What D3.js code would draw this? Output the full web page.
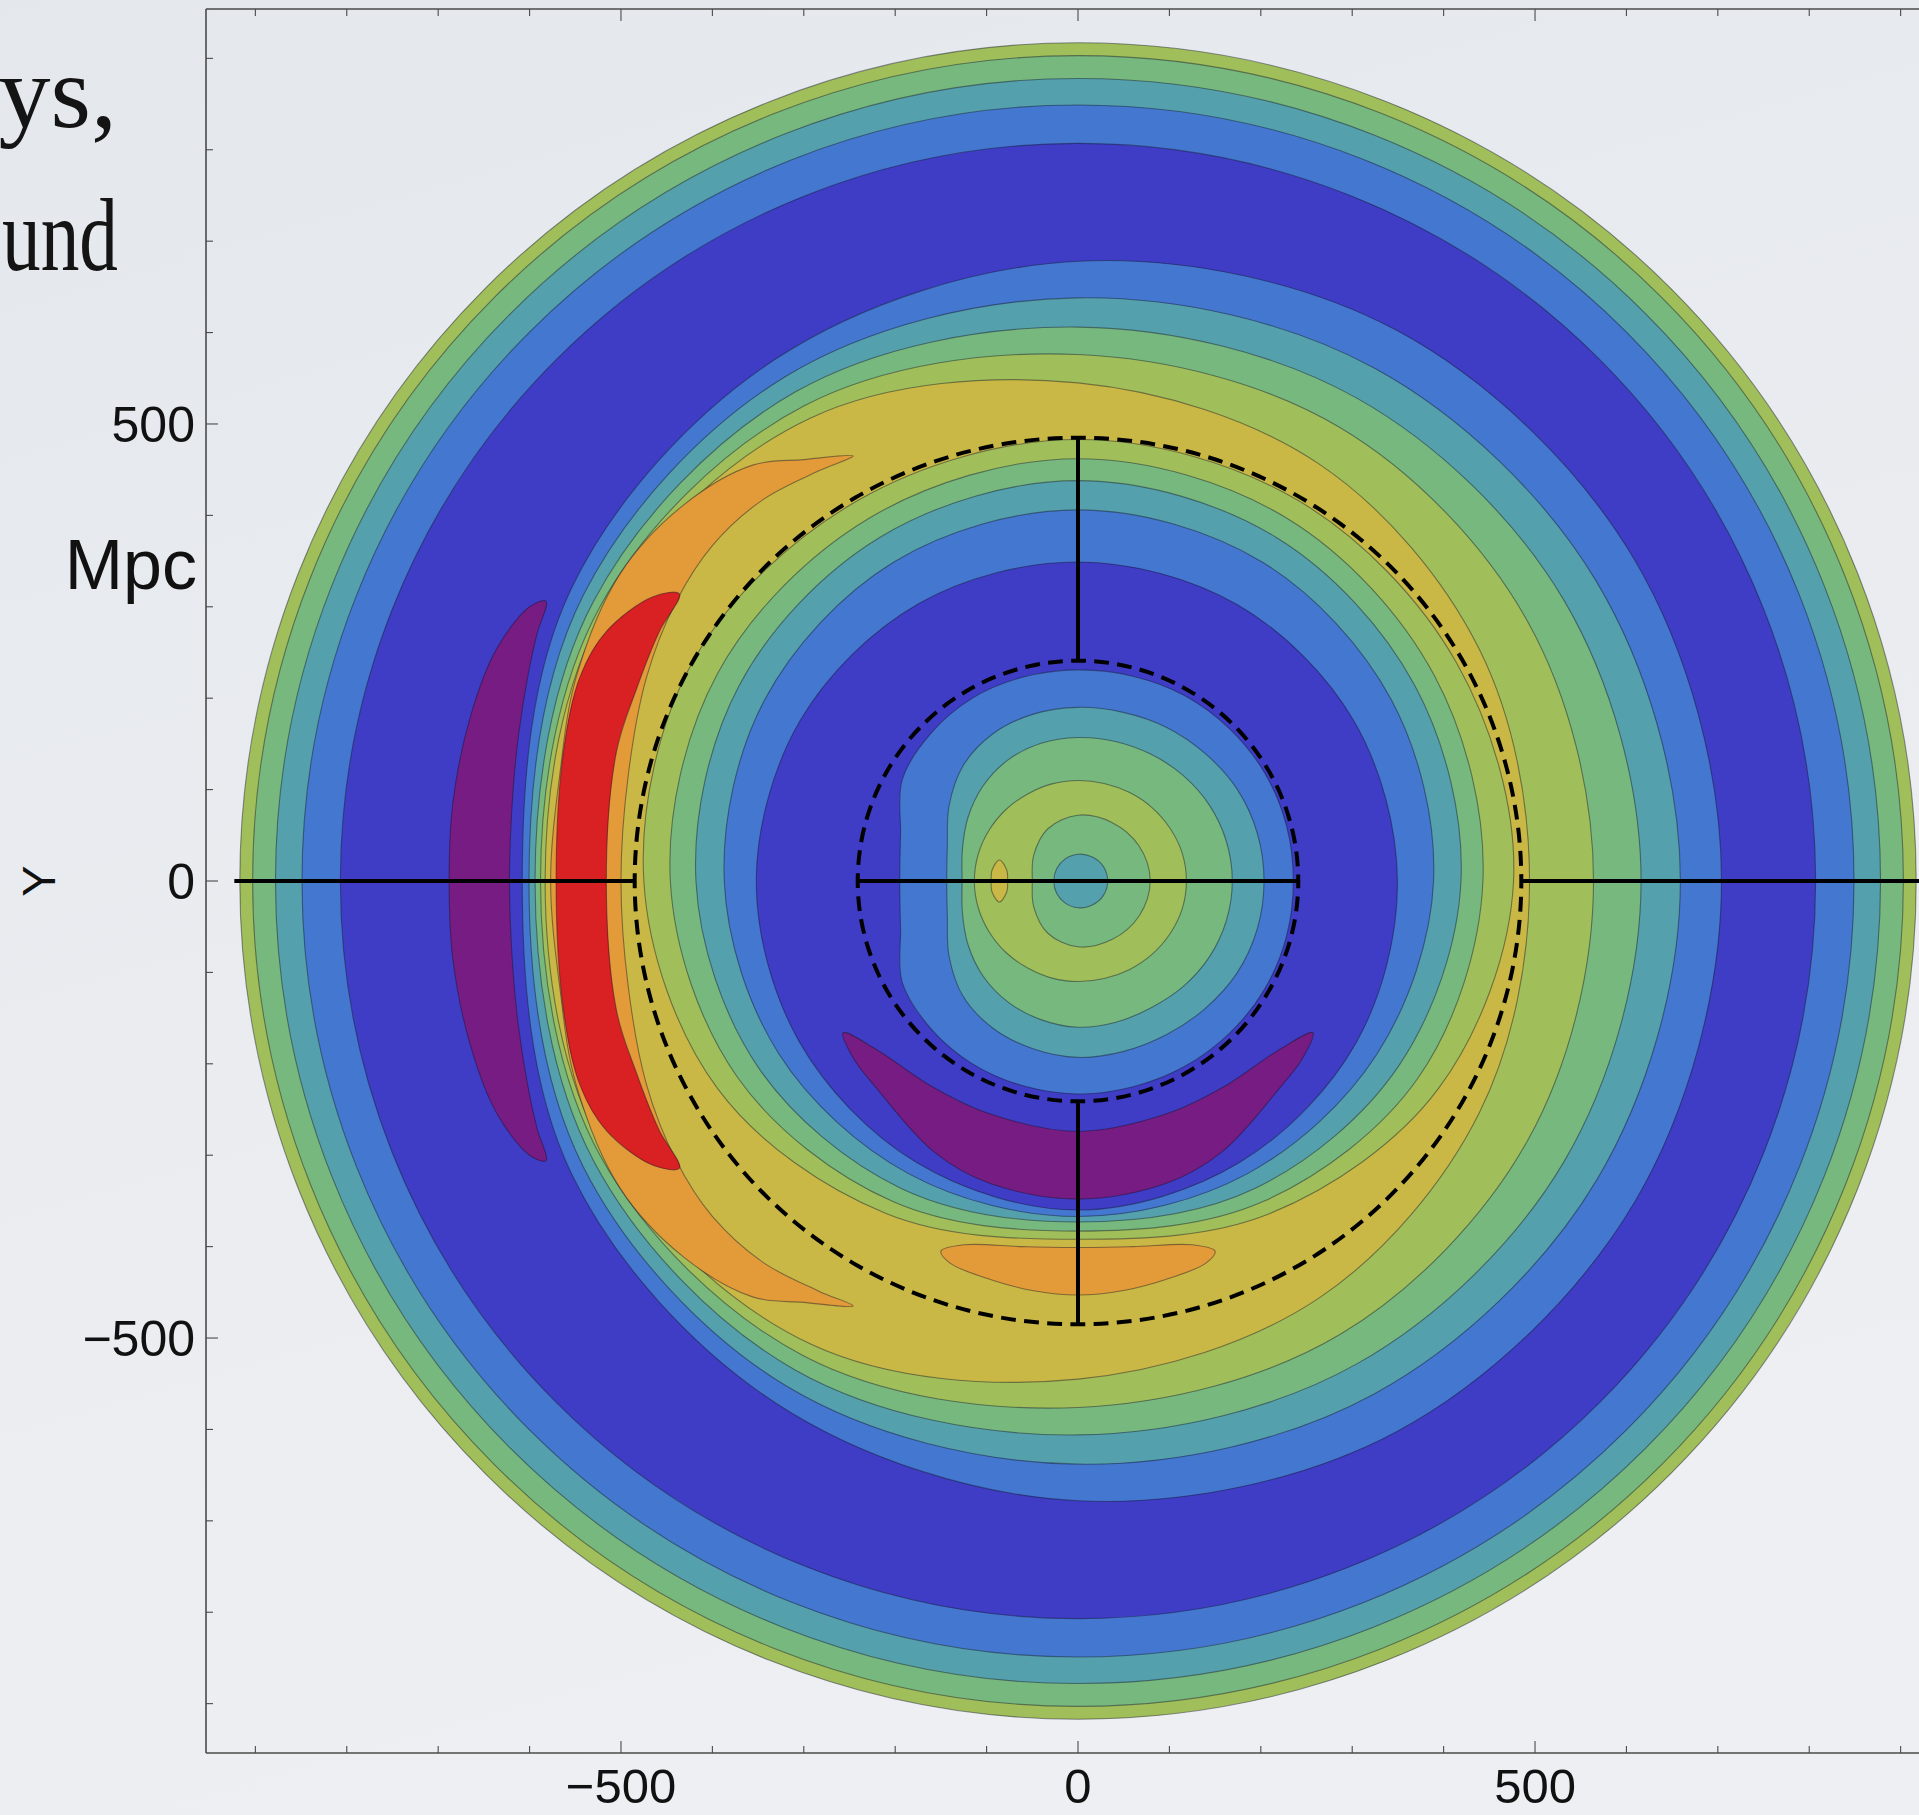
<!DOCTYPE html>
<html><head><meta charset="utf-8">
<script src="https://cdn.jsdelivr.net/npm/d3@7"></script>
<style>html,body{margin:0;padding:0;background:#eaecf0;} svg{display:block}</style>
</head><body><svg id="c" width="1919" height="1815"></svg>
<script>
// ---------- data (Mpc) ----------
const angles = [0,30,60,90,120,150,180,210,240,270,300,330];
const centerAngles = [0,15,30,45,60,75,90,105,120,135,150,165,180,195,210,225,240,255,270,285,300,315,330,345];
const levelColors = {purple:"#771c82", darkblue:"#3f3dc6", blue:"#4477cf", teal:"#55a0ad",
  green:"#77b87f", ygreen:"#a0bf5a", yellow:"#c9b845", orange:"#e39b39", red:"#d92022"};
const ringRadii = [917, 903, 878, 849, 807];
const ringLevels = ["ygreen","green","teal","blue","darkblue"];
const risingLevels = ["blue","teal","green","ygreen","yellow"];
const risingRadii = [
  [704,703,696,678,660,640,608,640,660,678,696,703],
  [659,655,648,638,638,625,600.6,625,638,638,648,655],
  [616,614,610,606,618,612,594,612,618,606,610,614],
  [564,568,573,576,600,603,588,603,600,576,573,568],
  [494,507,527,545,585,597,583,597,585,545,527,507]
];
const descLevels = ["ygreen","green","teal","blue","darkblue"];
const descRadii = [
  [476.5,478,481,483,481,485,475,455,420,392,420,455],
  [443,450,458,462,458,455,446,430,405,383,405,430],
  [419,426,434,438,434,428,418,405,388,373,388,405],
  [389,396,403,406,403,396,387,378,370,367,370,378],
  [349.5,349,349,349,350,351,352,352,355,360,355,352]
];
const centerLevels = ["blue","teal","green","ygreen"];
const centerRadii = [
  [235.6,236,236,235,234,232,231,231,231,228,222,201,195,201,222,228,231,232,233,233,234,235,236,236],
  [203.5,203,201,197,194,191,190,189,186,178,163,148,143.6,148,163,178,186,190,193,193,194,197,201,203],
  [168.8,168,166,163,160,158,157,156,153,147,139,131,126.8,131,139,147,153,157,160,160,160,163,166,168],
  [118.6,118,116,114,112,110.5,110,110,110,111,112,113,113.4,113,112,111,110,110,110,110.5,112,114,116,118]
];
const coreLevels = ["green","teal"];
const coreRadii = [
  [79,77,74,72,66,56,50,56,66,72,74,77],
  [32.5,32,30.5,29.3,28,27,26.5,27,28,29.3,30.5,32]
];
const purpleLeft = [[-582,306],[-592,270],[-601,229],[-612,160],[-618,100],[-622,0],[-618,-100],[-612,-160],[-601,-229],[-592,-270],[-582,-306],[-600,-300],[-636,-254],[-665,-179],[-684,-85],[-688,0],[-684,85],[-665,179],[-636,254],[-600,300]];
const orangeLeft = [[-246,465],[-300,461],[-356,455],[-432,411],[-501,336],[-549,223],[-567,116],[-577,0],[-567,-116],[-549,-223],[-501,-336],[-432,-411],[-356,-455],[-300,-461],[-246,-465],[-283,-449],[-345,-417],[-400,-367],[-440,-305],[-472,-223],[-492,-116],[-500,0],[-492,116],[-472,223],[-440,305],[-400,367],[-345,417],[-283,449]];
const redLeft = [[-436,314],[-465,311],[-516,273],[-545,223],[-563,141],[-571,0],[-563,-141],[-545,-223],[-516,-273],[-465,-311],[-436,-314],[-458,-273],[-483,-210],[-505,-141],[-516,0],[-505,141],[-483,210],[-458,273]];
const purpleBottom = [[-257,-166],[-221,-184],[-158,-226],[-96,-255],[0,-274],[96,-255],[158,-226],[221,-184],[257,-166],[245,-195],[221,-226],[158,-296],[96,-331],[0,-348],[-96,-331],[-158,-296],[-221,-226],[-245,-195]];
const orangeBottom = [[-150,-405],[-125,-398],[-60,-400],[0,-401],[60,-400],[125,-398],[150,-405],[140,-418],[96,-436],[50,-448],[0,-453],[-50,-448],[-96,-436],[-140,-418]];
const yellowDot = [[-86,23],[-78,12],[-77,0],[-78,-12],[-86,-23],[-94,-12],[-95,0],[-94,12]];
const dashedRadii = [241, 485];
const solidSegments = [ [[-923,0],[-485,0]], [[-241,0],[241,0]], [[485,0],[960,0]], [[0,485],[0,241]], [[0,-241],[0,-485]] ];
const tickValues = d3.range(-900, 901, 100);
const tickLabels = [{v:-500,t:"\u2212500"},{v:0,t:"0"},{v:500,t:"500"}];
const sideText = ["ys,", "und"];

// ---------- drawing ----------
const svg = d3.select("#c");
const defs = svg.append("defs");
const bg = defs.append("linearGradient").attr("id","bg").attr("x1",0).attr("y1",0).attr("x2",0.3).attr("y2",1);
bg.append("stop").attr("offset","0%").attr("stop-color","#e4e8ec");
bg.append("stop").attr("offset","100%").attr("stop-color","#eeeff3");
svg.append("rect").attr("width",1919).attr("height",1815).attr("fill","url(#bg)");

const x = d3.scaleLinear().domain([-954,954]).range([206,1950]);
const y = d3.scaleLinear().domain([-954,954]).range([1753,9]);
const k = x(1)-x(0);

defs.append("clipPath").attr("id","clip").append("rect")
  .attr("x",x(-954)).attr("y",y(954)).attr("width",x(954)-x(-954)).attr("height",y(-954)-y(954));
const g = svg.append("g").attr("clip-path","url(#clip)");

const line = d3.line().x(d=>x(d[0])).y(d=>y(d[1])).curve(d3.curveCatmullRomClosed.alpha(0.5));
const radial = (r, ang) => ang.map((a,i)=>[r[i]*Math.cos(a*Math.PI/180), r[i]*Math.sin(a*Math.PI/180)]);
const stroke = "rgba(20,20,40,0.45)";
function shape(pts, level){
  g.append("path").attr("d", line(pts)).attr("fill", levelColors[level])
   .attr("stroke", stroke).attr("stroke-width",1.1);
}
ringRadii.forEach((r,i)=>{
  g.append("circle").attr("cx",x(0)).attr("cy",y(0)).attr("r",r*k)
   .attr("fill",levelColors[ringLevels[i]]).attr("stroke",stroke).attr("stroke-width",1.1);
});
shape(purpleLeft,"purple");
risingRadii.forEach((r,i)=>shape(radial(r, angles), risingLevels[i]));
shape(orangeLeft,"orange");
shape(redLeft,"red");
shape(orangeBottom,"orange");
descRadii.forEach((r,i)=>shape(radial(r, angles), descLevels[i]));
shape(purpleBottom,"purple");
centerRadii.forEach((r,i)=>shape(radial(r, centerAngles), centerLevels[i]));
shape(yellowDot,"yellow");
coreRadii.forEach((r,i)=>shape(radial(r, angles), coreLevels[i]));

// dashed circles with dashes centred on the axes
dashedRadii.forEach(R=>{
  const p = d3.path(); const rp = R*k;
  p.moveTo(x(0)+rp, y(0)); p.arc(x(0), y(0), rp, 0, 2*Math.PI*0.999999, false);
  const circ = 2*Math.PI*rp; const n = Math.round(circ/23/4)*4; const per = circ/n;
  const dash = per*0.64;
  g.append("path").attr("d", p.toString()).attr("fill","none").attr("stroke","#000")
   .attr("stroke-width",4).attr("stroke-dasharray", `${dash} ${per-dash}`).attr("stroke-dashoffset", dash/2);
});
solidSegments.forEach(s=>{
  g.append("line").attr("x1",x(s[0][0])).attr("y1",y(s[0][1])).attr("x2",x(s[1][0])).attr("y2",y(s[1][1]))
   .attr("stroke","#000").attr("stroke-width",4);
});

// frame and ticks
const axisCol = "#4a4a4a";
const fr = svg.append("g").attr("stroke",axisCol).attr("fill","none");
fr.append("line").attr("x1",x(-954)).attr("x2",x(-954)).attr("y1",y(954)).attr("y2",y(-954)).attr("stroke-width",1.6);
fr.append("line").attr("x1",x(-954)).attr("x2",1919).attr("y1",y(954)).attr("y2",y(954)).attr("stroke-width",1.6);
fr.append("line").attr("x1",x(-954)).attr("x2",1919).attr("y1",y(-954)).attr("y2",y(-954)).attr("stroke-width",1.6);
tickValues.forEach(v=>{
  const len = (v%500===0)?12:7;
  fr.append("line").attr("x1",x(v)).attr("x2",x(v)).attr("y1",y(954)).attr("y2",y(954)+len).attr("stroke-width",1.1);
  fr.append("line").attr("x1",x(v)).attr("x2",x(v)).attr("y1",y(-954)).attr("y2",y(-954)-len).attr("stroke-width",1.1);
  fr.append("line").attr("x1",x(-954)).attr("x2",x(-954)+len).attr("y1",y(v)).attr("y2",y(v)).attr("stroke-width",1.1);
});
const font = "'Liberation Sans', Arial, Helvetica, sans-serif";
tickLabels.forEach(t=>{
  svg.append("text").attr("x",x(-954)-11).attr("y",y(t.v)).attr("dy","0.36em").attr("text-anchor","end")
    .attr("font-family",font).attr("font-size",50).attr("fill","#111").text(t.t);
  svg.append("text").attr("x",x(t.v)).attr("y",1803).attr("text-anchor","middle")
    .attr("font-family",font).attr("font-size",49).attr("fill","#111").text(t.t);
});
svg.append("text").attr("x",197).attr("y",y(347)).attr("dy","0.36em").attr("text-anchor","end")
  .attr("font-family",font).attr("font-size",70).attr("fill","#111").text("Mpc");
svg.append("text").attr("transform",`translate(38,${y(0)}) rotate(-90)`).attr("dy","0.36em").attr("text-anchor","middle")
  .attr("font-family",font).attr("font-size",47).attr("fill","#111").text("Y");
const serif = "'Liberation Serif','DejaVu Serif',serif";
svg.append("text").attr("x",117).attr("y",127).attr("text-anchor","end")
  .attr("font-family",serif).attr("font-size",104).attr("fill","#141414").text(sideText[0]);
svg.append("text").attr("x",2).attr("y",270).attr("text-anchor","start")
  .attr("textLength",116).attr("lengthAdjust","spacingAndGlyphs")
  .attr("font-family",serif).attr("font-size",104).attr("fill","#141414").text(sideText[1]);
</script></body></html>
